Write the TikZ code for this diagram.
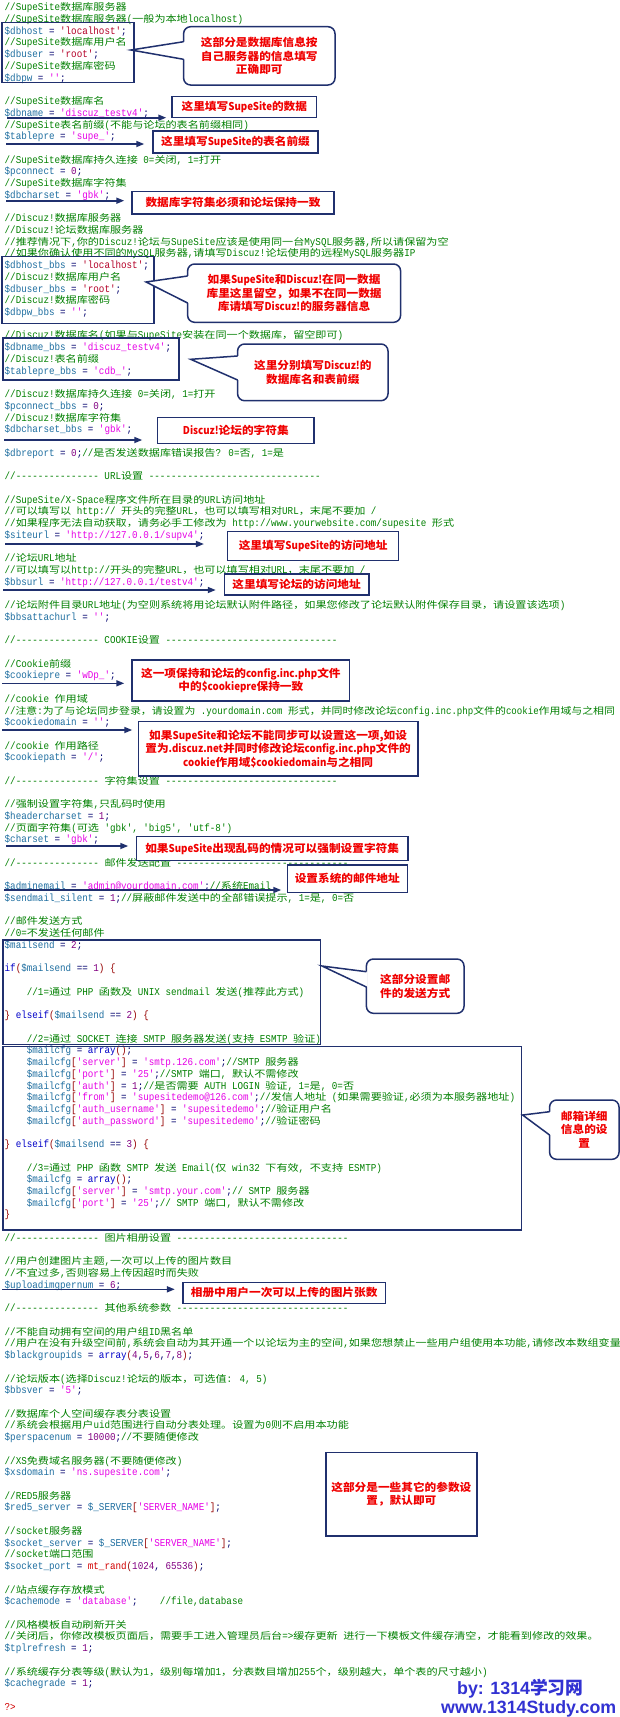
\documentclass[tikz,border=0pt]{standalone}
\usepackage{fontspec}
\usepackage{xcolor}
\usetikzlibrary{arrows.meta}
\newfontfamily\codelat{Liberation Mono}[FakeStretch=0.88]
\newfontfamily\codecjk{Noto Sans CJK SC}[Scale=0.9,FakeStretch=1.175]
\newfontfamily\calfont{Noto Sans CJK SC}[FakeStretch=1.08]
\newfontfamily\callat{Noto Sans CJK SC}[FakeStretch=0.9]
\newfontfamily\footfont{Liberation Sans}
\newfontfamily\cjkplain{Noto Sans CJK SC}
\definecolor{ccom}{RGB}{0,128,0}
\definecolor{cvar}{RGB}{30,110,160}
\definecolor{cstr}{RGB}{230,0,230}
\definecolor{csr}{RGB}{180,0,40}
\definecolor{cno}{RGB}{130,0,130}
\definecolor{ckw}{RGB}{0,0,200}
\definecolor{cbr}{RGB}{150,0,0}
\definecolor{cfn}{RGB}{210,0,0}
\definecolor{cop}{RGB}{0,0,110}
\definecolor{cnavy}{RGB}{32,48,110}
\definecolor{cred}{RGB}{240,0,0}
\definecolor{cblue}{RGB}{50,50,210}
\newcount\zcnt
\newXeTeXintercharclass\zCJK
\newcommand\zsetrange[3]{\zcnt=#1\relax\loop\XeTeXcharclass\zcnt=#3\relax\ifnum\zcnt<#2\relax\advance\zcnt by 1\relax\repeat}
\zsetrange{"21}{"7E}{0}
\zsetrange{"3000}{"303F}{\zCJK}
\zsetrange{"4E00}{"9FFF}{\zCJK}
\zsetrange{"FF00}{"FFEF}{\zCJK}
\XeTeXinterchartoks 0 \zCJK = {\codecjk}
\XeTeXinterchartoks 4095 \zCJK = {\codecjk}
\XeTeXinterchartoks \zCJK 0 = {\codelat}
\XeTeXinterchartoks \zCJK 4095 = {\codelat}
\newcommand\zcm[1]{\textcolor{ccom}{#1}}
\newcommand\zvr[1]{\textcolor{cvar}{#1}}
\newcommand\zst[1]{\textcolor{cstr}{#1}}
\newcommand\zsr[1]{\textcolor{csr}{#1}}
\newcommand\zno[1]{\textcolor{cno}{#1}}
\newcommand\zkw[1]{\textcolor{ckw}{#1}}
\newcommand\zbr[1]{\textcolor{cbr}{#1}}
\newcommand\zfn[1]{\textcolor{cfn}{#1}}
\newcommand\zL[1]{{\callat\bfseries #1}}
\newcommand\zl[3]{\node[codeline] (l#1) at ({4.5+#2*5.544},{10.8+(#1-1)*11.72}) {#3};}
\newcommand\zsep[2]{\zl{#1}{0}{\zcm{//--------------- #2 -------------------------------}}}
\begin{document}
\begin{tikzpicture}[x=1pt,y=-1pt,
  codeline/.style={anchor=base west,inner sep=0pt,text=cop,font={\XeTeXinterchartokenstate=1\relax\fontsize{10.5}{11}\codelat}},
  codebox/.style={draw=cnavy,line width=1.5pt},
  callbox/.style={draw=cnavy,line width=1.5pt,fill=white,inner sep=1pt,align=center,text=cred,font={\fontsize{10.8}{13.5}\calfont\bfseries}},
  bubble/.style={callbox,rounded corners=7pt},
  arr/.style={draw=cnavy,line width=1.6pt,-{Triangle[length=8pt,width=6pt]}},
  ptr/.style={draw=cnavy,line width=1.5pt,line join=miter},
  foot/.style={anchor=base west,inner sep=0pt,text=cblue,font={\fontsize{17.8}{20}\footfont\bfseries}}
]
\useasboundingbox (0,0) rectangle (620,1717);
\fill[white] (0,0) rectangle (620,1717);
\clip (0,0) rectangle (620,1717);
% ---------------- code listing ----------------
\zl{1}{0}{\zcm{//SupeSite数据库服务器}}
\zl{2}{0}{\zcm{//SupeSite数据库服务器(一般为本地localhost)}}
\zl{3}{0}{\zvr{\$dbhost} = \zsr{'localhost'};}
\zl{4}{0}{\zcm{//SupeSite数据库用户名}}
\zl{5}{0}{\zvr{\$dbuser} = \zsr{'root'};}
\zl{6}{0}{\zcm{//SupeSite数据库密码}}
\zl{7}{0}{\zvr{\$dbpw} = \zst{''};}
\zl{9}{0}{\zcm{//SupeSite数据库名}}
\zl{10}{0}{\zvr{\$dbname} = \zst{'discuz\_testv4'};}
\zl{11}{0}{\zcm{//SupeSite表名前缀(不能与论坛的表名前缀相同)}}
\zl{12}{0}{\zvr{\$tablepre} = \zst{'supe\_'};}
\zl{14}{0}{\zcm{//SupeSite数据库持久连接 0=关闭, 1=打开}}
\zl{15}{0}{\zvr{\$pconnect} = \zno{0};}
\zl{16}{0}{\zcm{//SupeSite数据库字符集}}
\zl{17}{0}{\zvr{\$dbcharset} = \zst{'gbk'};}
\zl{19}{0}{\zcm{//Discuz!数据库服务器}}
\zl{20}{0}{\zcm{//Discuz!论坛数据库服务器}}
\zl{21}{0}{\zcm{//推荐情况下,你的Discuz!论坛与SupeSite应该是使用同一台MySQL服务器,所以请保留为空}}
\zl{22}{0}{\zcm{//如果你确认使用不同的MySQL服务器,请填写Discuz!论坛使用的远程MySQL服务器IP}}
\zl{23}{0}{\zvr{\$dbhost\_bbs} = \zsr{'localhost'};}
\zl{24}{0}{\zcm{//Discuz!数据库用户名}}
\zl{25}{0}{\zvr{\$dbuser\_bbs} = \zsr{'root'};}
\zl{26}{0}{\zcm{//Discuz!数据库密码}}
\zl{27}{0}{\zvr{\$dbpw\_bbs} = \zst{''};}
\zl{29}{0}{\zcm{//Discuz!数据库名(如果与SupeSite安装在同一个数据库，留空即可)}}
\zl{30}{0}{\zvr{\$dbname\_bbs} = \zst{'discuz\_testv4'};}
\zl{31}{0}{\zcm{//Discuz!表名前缀}}
\zl{32}{0}{\zvr{\$tablepre\_bbs} = \zst{'cdb\_'};}
\zl{34}{0}{\zcm{//Discuz!数据库持久连接 0=关闭, 1=打开}}
\zl{35}{0}{\zvr{\$pconnect\_bbs} = \zno{0};}
\zl{36}{0}{\zcm{//Discuz!数据库字符集}}
\zl{37}{0}{\zvr{\$dbcharset\_bbs} = \zst{'gbk'};}
\zl{39}{0}{\zvr{\$dbreport} = \zno{0};\zcm{//是否发送数据库错误报告? 0=否, 1=是}}
\zsep{41}{URL设置}
\zl{43}{0}{\zcm{//SupeSite/X-Space程序文件所在目录的URL访问地址}}
\zl{44}{0}{\zcm{//可以填写以 http:// 开头的完整URL，也可以填写相对URL，末尾不要加 /}}
\zl{45}{0}{\zcm{//如果程序无法自动获取，请务必手工修改为 http://www.yourwebsite.com/supesite 形式}}
\zl{46}{0}{\zvr{\$siteurl} = \zst{'http://127.0.0.1/supv4'};}
\zl{48}{0}{\zcm{//论坛URL地址}}
\zl{49}{0}{\zcm{//可以填写以http://开头的完整URL，也可以填写相对URL，末尾不要加 /}}
\zl{50}{0}{\zvr{\$bbsurl} = \zst{'http://127.0.0.1/testv4'};}
\zl{52}{0}{\zcm{//论坛附件目录URL地址(为空则系统将用论坛默认附件路径，如果您修改了论坛默认附件保存目录，请设置该选项)}}
\zl{53}{0}{\zvr{\$bbsattachurl} = \zst{''};}
\zsep{55}{COOKIE设置}
\zl{57}{0}{\zcm{//Cookie前缀}}
\zl{58}{0}{\zvr{\$cookiepre} = \zst{'wDp\_'};}
\zl{60}{0}{\zcm{//cookie 作用域}}
\node[codeline,xscale=0.982,transform shape] (l61) at (4.5,{10.8+60*11.72}) {\zcm{//注意:为了与论坛同步登录，请设置为 .yourdomain.com 形式，并同时修改论坛config.inc.php文件的cookie作用域与之相同}};
\zl{62}{0}{\zvr{\$cookiedomain} = \zst{''};}
\zl{64}{0}{\zcm{//cookie 作用路径}}
\zl{65}{0}{\zvr{\$cookiepath} = \zst{'/'};}
\zsep{67}{字符集设置}
\zl{69}{0}{\zcm{//强制设置字符集,只乱码时使用}}
\zl{70}{0}{\zvr{\$headercharset} = \zno{1};}
\zl{71}{0}{\zcm{//页面字符集(可选 'gbk', 'big5', 'utf-8')}}
\zl{72}{0}{\zvr{\$charset} = \zst{'gbk'};}
\zsep{74}{邮件发送配置}
\zl{76}{0}{\zvr{\$adminemail} = \zst{'admin@yourdomain.com'};\zcm{//系统Email}}
\zl{77}{0}{\zvr{\$sendmail\_silent} = \zno{1};\zcm{//屏蔽邮件发送中的全部错误提示, 1=是, 0=否}}
\zl{79}{0}{\zcm{//邮件发送方式}}
\zl{80}{0}{\zcm{//0=不发送任何邮件}}
\zl{81}{0}{\zvr{\$mailsend} = \zno{2};}
\zl{83}{0}{\zkw{if}\zbr{(}\zvr{\$mailsend} == \zno{1}\zbr{)} \zbr{\{}}
\zl{85}{4}{\zcm{//1=通过 PHP 函数及 UNIX sendmail 发送(推荐此方式)}}
\zl{87}{0}{\zbr{\}} \zkw{elseif}\zbr{(}\zvr{\$mailsend} == \zno{2}\zbr{)} \zbr{\{}}
\zl{89}{4}{\zcm{//2=通过 SOCKET 连接 SMTP 服务器发送(支持 ESMTP 验证)}}
\zl{90}{4}{\zvr{\$mailcfg} = \zkw{array}\zbr{()};}
\zl{91}{4}{\zvr{\$mailcfg}\zbr{[}\zst{'server'}\zbr{]} = \zst{'smtp.126.com'};\zcm{//SMTP 服务器}}
\zl{92}{4}{\zvr{\$mailcfg}\zbr{[}\zst{'port'}\zbr{]} = \zst{'25'};\zcm{//SMTP 端口, 默认不需修改}}
\zl{93}{4}{\zvr{\$mailcfg}\zbr{[}\zst{'auth'}\zbr{]} = \zno{1};\zcm{//是否需要 AUTH LOGIN 验证, 1=是, 0=否}}
\zl{94}{4}{\zvr{\$mailcfg}\zbr{[}\zst{'from'}\zbr{]} = \zst{'supesitedemo@126.com'};\zcm{//发信人地址 (如果需要验证,必须为本服务器地址)}}
\zl{95}{4}{\zvr{\$mailcfg}\zbr{[}\zst{'auth\_username'}\zbr{]} = \zst{'supesitedemo'};\zcm{//验证用户名}}
\zl{96}{4}{\zvr{\$mailcfg}\zbr{[}\zst{'auth\_password'}\zbr{]} = \zst{'supesitedemo'};\zcm{//验证密码}}
\zl{98}{0}{\zbr{\}} \zkw{elseif}\zbr{(}\zvr{\$mailsend} == \zno{3}\zbr{)} \zbr{\{}}
\zl{100}{4}{\zcm{//3=通过 PHP 函数 SMTP 发送 Email(仅 win32 下有效, 不支持 ESMTP)}}
\zl{101}{4}{\zvr{\$mailcfg} = \zkw{array}\zbr{()};}
\zl{102}{4}{\zvr{\$mailcfg}\zbr{[}\zst{'server'}\zbr{]} = \zst{'smtp.your.com'};\zcm{// SMTP 服务器}}
\zl{103}{4}{\zvr{\$mailcfg}\zbr{[}\zst{'port'}\zbr{]} = \zst{'25'};\zcm{// SMTP 端口, 默认不需修改}}
\zl{104}{0}{\zbr{\}}}
\zsep{106}{图片相册设置}
\zl{108}{0}{\zcm{//用户创建图片主题,一次可以上传的图片数目}}
\zl{109}{0}{\zcm{//不宜过多,否则容易上传因超时而失败}}
\zl{110}{0}{\zvr{\$uploadimgpernum} = \zno{6};}
\zsep{112}{其他系统参数}
\zl{114}{0}{\zcm{//不能自动拥有空间的用户组ID黑名单}}
\zl{115}{0}{\zcm{//用户在没有升级空间前,系统会自动为其开通一个以论坛为主的空间,如果您想禁止一些用户组使用本功能,请修改本数组变量}}
\zl{116}{0}{\zvr{\$blackgroupids} = \zkw{array}\zbr{(}\zno{4},\zno{5},\zno{6},\zno{7},\zno{8}\zbr{)};}
\zl{118}{0}{\zcm{//论坛版本(选择Discuz!论坛的版本，可选值: 4, 5)}}
\zl{119}{0}{\zvr{\$bbsver} = \zst{'5'};}
\zl{121}{0}{\zcm{//数据库个人空间缓存表分表设置}}
\zl{122}{0}{\zcm{//系统会根据用户uid范围进行自动分表处理。设置为0则不启用本功能}}
\zl{123}{0}{\zvr{\$perspacenum} = \zno{10000};\zcm{//不要随便修改}}
\zl{125}{0}{\zcm{//XS免费域名服务器(不要随便修改)}}
\zl{126}{0}{\zvr{\$xsdomain} = \zst{'ns.supesite.com'};}
\zl{128}{0}{\zcm{//RED5服务器}}
\zl{129}{0}{\zvr{\$red5\_server} = \zvr{\$\_SERVER}\zbr{[}\zst{'SERVER\_NAME'}\zbr{]};}
\zl{131}{0}{\zcm{//socket服务器}}
\zl{132}{0}{\zvr{\$socket\_server} = \zvr{\$\_SERVER}\zbr{[}\zst{'SERVER\_NAME'}\zbr{]};}
\zl{133}{0}{\zcm{//socket端口范围}}
\zl{134}{0}{\zvr{\$socket\_port} = \zfn{mt\_rand}\zbr{(}\zno{1024}, \zno{65536}\zbr{)};}
\zl{136}{0}{\zcm{//站点缓存存放模式}}
\zl{137}{0}{\zvr{\$cachemode} = \zst{'database'};\ \ \ \ \zcm{//file,database}}
\zl{139}{0}{\zcm{//风格模板自动刷新开关}}
\zl{140}{0}{\zcm{//关闭后，你修改模板页面后，需要手工进入管理员后台=>缓存更新 进行一下模板文件缓存清空，才能看到修改的效果。}}
\zl{141}{0}{\zvr{\$tplrefresh} = \zno{1};}
\zl{143}{0}{\zcm{//系统缓存分表等级(默认为1，级别每增加1，分表数目增加255个，级别越大，单个表的尺寸越小)}}
\zl{144}{0}{\zvr{\$cachegrade} = \zno{1};}
\zl{146}{0}{\zfn{?>}}
% ---------------- boxes around code ----------------
\draw[codebox] (2,22.7) rectangle (134,82.3);
\draw[codebox] (2,256.7) rectangle (154,323.3);
\draw[codebox] (3,338) rectangle (179,380);
\draw[codebox] (3,940) rectangle (320.7,1044.3);
\draw[codebox] (3,1046.7) rectangle (521.4,1230);
% ---------------- callout boxes ----------------
\node[callbox,minimum width=144.7pt,minimum height=20.6pt] (b2) at (244.35,107) {这里填写\zL{SupeSite}的数据};
\node[callbox,minimum width=165pt,minimum height=22pt] (b3) at (235.5,142) {这里填写\zL{SupeSite}的表名前缀};
\node[callbox,minimum width=202pt,minimum height=22.3pt] (b4) at (233,202.85) {数据库字符集必须和论坛保持一致};
\node[callbox,minimum width=156.3pt,minimum height=25.6pt] (b7) at (235.85,430.5) {\zL{Discuz!}论坛的字符集};
\node[callbox,minimum width=170.9pt,minimum height=29pt] (b8) at (313.15,546.2) {这里填写\zL{SupeSite}的访问地址};
\node[callbox,minimum width=144.3pt,minimum height=21pt] (b9) at (296.65,584.5) {这里填写论坛的访问地址};
\node[callbox,minimum width=217.7pt,minimum height=41pt] (b10) at (240.85,680.5) {这一项保持和论坛的\zL{config.inc.php}文件\\中的\zL{\$cookiepre}保持一致};
\node[callbox,minimum width=279.7pt,minimum height=54.3pt] (b11) at (278.15,748.85) {如果\zL{SupeSite}和论坛不能同步可以设置这一项,如设\\置为\zL{.discuz.net}并同时修改论坛\zL{config.inc.php}文件的\\\zL{cookie}作用域\zL{\$cookiedomain}与之相同};
\node[callbox,minimum width=271.7pt,minimum height=24pt] (b12) at (272.15,848.7) {如果\zL{SupeSite}出现乱码的情况可以强制设置字符集};
\node[callbox,minimum width=120pt,minimum height=27.3pt] (b13) at (347.3,878.65) {设置系统的邮件地址};
\node[callbox,minimum width=202.7pt,minimum height=21pt] (b16) at (284.15,1292.8) {相册中用户一次可以上传的图片张数};
\node[callbox,minimum width=151pt,minimum height=83.7pt] (b17) at (401.4,1494.15) {这部分是一些其它的参数设\\置，默认即可};
% ---------------- arrows ----------------
\coordinate (a2) at (7,117.7);    \draw[arr,shorten >=5pt] (a2) -- (b2.west |- a2);
\coordinate (a3) at (6,144);      \draw[arr,shorten >=8pt] (a3) -- (b3.west |- a3);
\coordinate (a4) at (6,200.7);    \draw[arr,shorten >=7pt] (a4) -- (b4.west |- a4);
\coordinate (a7) at (4,440);      \draw[arr,shorten >=14.7pt] (a7) -- (b7.west |- a7);
\coordinate (a8) at (5,544);      \draw[arr,shorten >=23pt] (a8) -- (b8.west |- a8);
\coordinate (a9) at (3,590);      \draw[arr,shorten >=8pt] (a9) -- (b9.west |- a9);
\coordinate (a10) at (2,683.3);   \draw[arr,shorten >=7pt] (a10) -- (b10.west |- a10);
\coordinate (a11) at (2,730);     \draw[arr,shorten >=5.3pt] (a11) -- (b11.west |- a11);
\coordinate (a12) at (6,846);     \draw[arr,shorten >=7.3pt] (a12) -- (b12.west |- a12);
\coordinate (a13) at (4,890);     \draw[arr,shorten >=5.3pt] (a13) -- (b13.west |- a13);
\coordinate (a16) at (2,1289.3);  \draw[arr,shorten >=7.2pt] (a16) -- (b16.west |- a16);
% ---------------- speech bubbles ----------------
\node[bubble,minimum width=151.4pt,minimum height=58.3pt] (u1) at (259.3,55.85) {这部分是数据库信息按\\自己服务器的信息填写\\正确即可};
\coordinate (u1a) at (183.6,41.7); \coordinate (u1b) at (183.6,59.3); \coordinate (u1t) at (131,50);
\fill[white] (184.8,41.7) -- (u1t) -- (184.8,59.3) -- cycle;
\draw[ptr] (u1a) -- (u1t) -- (u1b);
\node[bubble,minimum width=213pt,minimum height=58.3pt] (u5) at (294.1,293.15) {如果\zL{SupeSite}和\zL{Discuz!}在同一数据\\库里这里留空，如果不在同一数据\\库请填写\zL{Discuz!}的服务器信息};
\coordinate (u5a) at (187.6,276); \coordinate (u5b) at (187.6,303); \coordinate (u5t) at (146,282);
\fill[white] (188.8,276) -- (u5t) -- (188.8,303) -- cycle;
\draw[ptr] (u5a) -- (u5t) -- (u5b);
\node[bubble,minimum width=150.4pt,minimum height=56.7pt] (u6) at (312.8,372.35) {这里分别填写\zL{Discuz!}的\\数据库名和表前缀};
\coordinate (u6a) at (237.6,356); \coordinate (u6b) at (237.6,380); \coordinate (u6t) at (190.7,359.3);
\fill[white] (238.8,356) -- (u6t) -- (238.8,380) -- cycle;
\draw[ptr] (u6a) -- (u6t) -- (u6b);
\node[bubble,minimum width=97.6pt,minimum height=54.3pt] (u14) at (415.2,986.15) {这部分设置邮\\件的发送方式};
\coordinate (u14a) at (366.4,971.7); \coordinate (u14b) at (366.4,987); \coordinate (u14t) at (322,966);
\fill[white] (367.6,971.7) -- (u14t) -- (367.6,987) -- cycle;
\draw[ptr] (u14a) -- (u14t) -- (u14b);
\node[bubble,minimum width=69.4pt,minimum height=59.3pt] (u15) at (584.3,1129.65) {邮箱详细\\信息的设\\置};
\coordinate (u15a) at (549.6,1111.7); \coordinate (u15b) at (549.6,1135); \coordinate (u15t) at (522.6,1115);
\fill[white] (550.8,1111.7) -- (u15t) -- (550.8,1135) -- cycle;
\draw[ptr] (u15a) -- (u15t) -- (u15b);
% ---------------- footer ----------------
\node[foot] (f1) at (457,1694) {by: 1314{\cjkplain\bfseries 学习网}};
\node[foot] (f2) at (441,1713.5) {www.1314Study.com};
\end{tikzpicture}
\end{document}
